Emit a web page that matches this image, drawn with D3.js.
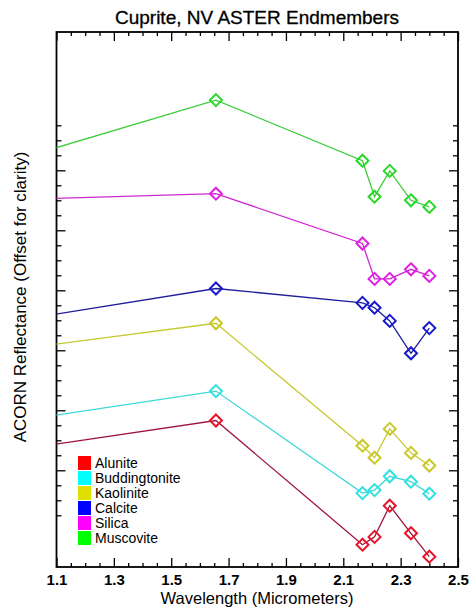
<!DOCTYPE html>
<html>
<head>
<meta charset="utf-8">
<script src="https://cdn.jsdelivr.net/npm/d3@7"></script>
<style>
  body { margin: 0; background: #fff; }
  text { font-family: "Liberation Sans", Arial, Helvetica, sans-serif; }
</style>
</head>
<body>
<div id="chart"></div>
<script>
// ASTER band centres (micrometers), first one is band 3 (off the left edge)
const wavelengths = [0.807, 1.656, 2.167, 2.209, 2.262, 2.336, 2.400];

const names = ["Alunite", "Buddingtonite", "Kaolinite", "Calcite", "Silica", "Muscovite"];

// offset reflectance
const alunite       = [0.223, 0.283, 0.076, 0.089, 0.141, 0.095, 0.056];
const buddingtonite = [0.271, 0.332, 0.162, 0.167, 0.190, 0.181, 0.161];
const kaolinite     = [0.392, 0.445, 0.241, 0.221, 0.269, 0.229, 0.208];
const calcite       = [0.438, 0.503, 0.479, 0.471, 0.449, 0.395, 0.437];
const silica        = [0.649, 0.661, 0.578, 0.519, 0.519, 0.535, 0.524];
const muscovite     = [0.696, 0.817, 0.716, 0.656, 0.699, 0.650, 0.639];

const lineColors   = ["#a0143c", "#3cd8d8", "#c8c832", "#1e1e9a", "#d028d0", "#3ccc3c"];
const markerColors = ["#e8142c", "#30e0e0", "#c8c828", "#1818d0", "#e020e0", "#28d828"];
const swatchColors = ["#ff0000", "#00ffff", "#e0e000", "#0000ff", "#ff00ff", "#00ff00"];

const xTicksMajor = [1.1, 1.3, 1.5, 1.7, 1.9, 2.1, 2.3, 2.5];

const series = [alunite, buddingtonite, kaolinite, calcite, silica, muscovite];

const W = 472, H = 608;
const margin = {top: 32, right: 14, bottom: 41, left: 56.5};
const width = W - margin.left - margin.right;
const height = H - margin.top - margin.bottom;

const svg = d3.select("#chart").append("svg")
    .attr("width", W)
    .attr("height", H);

const x = d3.scaleLinear().domain([1.1, 2.5]).range([margin.left, W - margin.right]);
const y = d3.scaleLinear().domain([0.0388, 0.9305]).range([H - margin.bottom, margin.top]);

// clip lines to the plot frame
svg.append("defs").append("clipPath")
    .attr("id", "plotclip")
    .append("rect")
    .attr("x", margin.left).attr("y", margin.top)
    .attr("width", width).attr("height", height);

// title
svg.append("text")
    .attr("x", 257).attr("y", 24)
    .attr("text-anchor", "middle")
    .attr("font-size", "19px")
    .attr("stroke", "#000")
    .attr("stroke-width", 0.3)
    .text("Cuprite, NV ASTER Endmembers");

// x ticks, minor every 0.05 and major every 0.2
const xMinor = d3.range(1.15, 2.5, 0.05).filter(v => !xTicksMajor.some(m => Math.abs(m - v) < 1e-6));

const xBottom = d3.axisBottom(x).tickValues(xMinor).tickSize(-4).tickFormat("");
const xBottomMajor = d3.axisBottom(x).tickValues(xTicksMajor).tickSize(-9).tickPadding(7).tickFormat(d3.format(".1f"));
const xTop = d3.axisTop(x).tickValues(xMinor).tickSize(-4).tickFormat("");
const xTopMajor = d3.axisTop(x).tickValues(xTicksMajor).tickSize(-9).tickFormat("");

svg.append("g").attr("transform", `translate(0,${H - margin.bottom})`).call(xBottom);
let gxb = svg.append("g").attr("transform", `translate(0,${H - margin.bottom})`).call(xBottomMajor);
gxb.selectAll("text")
    .attr("font-size", "15px")
    .attr("font-weight", "bold")
    .attr("fill", "#000")
    .style("font-family", "'Liberation Sans', Arial, sans-serif");
svg.append("g").attr("transform", `translate(0,${margin.top})`).call(xTop);
svg.append("g").attr("transform", `translate(0,${margin.top})`).call(xTopMajor);

// y ticks, no labels
const yMinor = d3.range(0.125, 0.78, 0.025).filter(v => Math.abs(v * 10 - Math.round(v * 10)) > 1e-6);
const yMajor = [0.2, 0.3, 0.4, 0.5, 0.6, 0.7];

svg.append("g").attr("transform", `translate(${margin.left},0)`)
    .call(d3.axisLeft(y).tickValues(yMinor).tickSize(-5).tickFormat(""));
svg.append("g").attr("transform", `translate(${margin.left},0)`)
    .call(d3.axisLeft(y).tickValues(yMajor).tickSize(-9).tickFormat(""));
svg.append("g").attr("transform", `translate(${W - margin.right},0)`)
    .call(d3.axisRight(y).tickValues(yMinor).tickSize(-5).tickFormat(""));
svg.append("g").attr("transform", `translate(${W - margin.right},0)`)
    .call(d3.axisRight(y).tickValues(yMajor).tickSize(-9).tickFormat(""));

svg.selectAll(".domain").remove();
svg.selectAll(".tick line").attr("stroke", "#000").attr("stroke-width", 1.3);

// frame
svg.append("rect")
    .attr("x", margin.left).attr("y", margin.top)
    .attr("width", width).attr("height", height)
    .attr("fill", "none")
    .attr("stroke", "#000")
    .attr("stroke-width", 1.8);

// axis titles
svg.append("text")
    .attr("x", 257).attr("y", 604)
    .attr("text-anchor", "middle")
    .attr("font-size", "16.5px")
    .text("Wavelength (Micrometers)");

svg.append("text")
    .attr("transform", "translate(26,297) rotate(-90)")
    .attr("text-anchor", "middle")
    .attr("font-size", "17px")
    .text("ACORN Reflectance (Offset for clarity)");

// spectra
const line = d3.line()
    .x(d => x(d[0]))
    .y(d => y(d[1]));

const plot = svg.append("g").attr("clip-path", "url(#plotclip)");

series.forEach((vals, i) => {
    let pts = wavelengths.map((w, j) => [w, vals[j]]);
    plot.append("path")
        .datum(pts)
        .attr("d", line)
        .attr("fill", "none")
        .attr("stroke", lineColors[i])
        .attr("stroke-width", 1.3);
});

const diamond = 6;
series.forEach((vals, i) => {
    let pts = wavelengths.map((w, j) => [w, vals[j]]).filter(d => d[0] >= 1.1);
    svg.append("g").selectAll("path")
        .data(pts)
        .enter().append("path")
        .attr("d", d => {
            let cx = x(d[0]), cy = y(d[1]);
            return `M${cx},${cy - diamond}L${cx + diamond},${cy}L${cx},${cy + diamond}L${cx - diamond},${cy}Z`;
        })
        .attr("fill", "none")
        .attr("stroke", markerColors[i])
        .attr("stroke-width", 2);
});

// legend
const legend = svg.append("g").attr("transform", "translate(78,456)");
names.forEach((n, i) => {
    legend.append("rect")
        .attr("x", 0).attr("y", i * 15)
        .attr("width", 13).attr("height", 14)
        .attr("fill", swatchColors[i]);
    legend.append("text")
        .attr("x", 17).attr("y", i * 15 + 12)
        .attr("font-size", "14px")
        .text(n);
});
</script>
</body>
</html>
